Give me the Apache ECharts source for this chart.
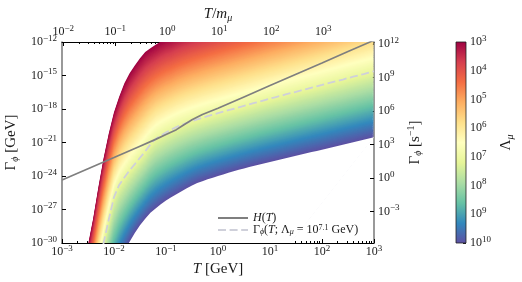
<!DOCTYPE html>
<html><head><meta charset="utf-8">
<script src="https://cdn.jsdelivr.net/npm/echarts@6/dist/echarts.min.js"></script>
<style>html,body{margin:0;padding:0;background:#fff}#c{width:522px;height:282px}</style>
</head><body><div id="c"></div>
<script>
// ---------------- data ----------------
// sample temperatures, log10(T / GeV)
const logT = [-3,-2.9,-2.8,-2.7,-2.6,-2.5,-2.4,-2.3,-2.2,-2.1,-2,-1.9,-1.8,-1.7,-1.6,-1.5,-1.4,-1.3,-1.2,-1.1,-1,-0.9,-0.8,-0.7,-0.6,-0.5,-0.4,-0.3,-0.2,-0.1,0,0.1,0.2,0.3,0.4,0.5,0.6,0.7,0.8,0.9,1,1.1,1.2,1.3,1.4,1.5,1.6,1.7,1.8,1.9,2,2.1,2.2,2.3,2.4,2.5,2.6,2.7,2.8,2.9,3];
// log10(Gamma_phi / GeV) for Lambda_mu = 10^3 GeV (upper, red edge)
const logGammaLam3 = [-46.0,-42.2,-38.7,-35.5,-32.6,-30.2,-27.8,-25.0,-22.4,-20.2,-18.3,-16.9,-15.7,-14.8,-14.1,-13.45,-12.9,-12.55,-12.25,-11.95,-11.7,
  -11.55,-11.32,-11.12,-10.94,-10.78,-10.63,-10.48,-10.34,-10.2,-10.07,
  -9.94,-9.81,-9.68,-9.55,-9.42,-9.29,-9.16,-9.03,-8.9,-8.77,
  -8.65,-8.53,-8.4,-8.28,-8.16,-8.03,-7.91,-7.79,-7.67,-7.55,
  -7.42,-7.3,-7.18,-7.06,-6.93,-6.81,-6.69,-6.57,-6.44,-6.32];
// log10(Gamma_phi / GeV) for Lambda_mu = 10^7.1 GeV (dashed curve)
const logGammaLam71 = [-53.7,-50.0,-46.5,-43.3,-40.3,-37.5,-34.8,-32.3,-30.0,-27.9,-25.9,-24.8,-24.13,-23.5,-22.94,-22.37,-21.8,-21.17,-20.68,-20.38,-20.1,
  -19.85,-19.62,-19.42,-19.24,-19.08,-18.93,-18.78,-18.64,-18.5,-18.37,
  -18.24,-18.11,-17.98,-17.85,-17.72,-17.59,-17.46,-17.33,-17.2,-17.07,
  -16.95,-16.83,-16.7,-16.58,-16.46,-16.33,-16.21,-16.09,-15.97,-15.85,
  -15.72,-15.6,-15.48,-15.36,-15.23,-15.11,-14.99,-14.87,-14.74,-14.62];
// log10(Gamma_phi / GeV) for Lambda_mu = 10^10 GeV (lower, purple edge)
const logGammaLam10 = [-56.0,-53.0,-50.0,-47.2,-44.6,-42.2,-40.0,-38.0,-36.2,-34.6,-33.2,-31.9,-30.8,-29.88,-29.1,-28.42,-27.82,-27.3,-26.9,-26.53,-26.2,
  -25.9,-25.63,-25.37,-25.1,-24.85,-24.63,-24.46,-24.3,-24.15,-24.0,
  -23.86,-23.72,-23.58,-23.45,-23.32,-23.2,-23.08,-22.96,-22.85,-22.74,
  -22.63,-22.52,-22.41,-22.3,-22.19,-22.08,-21.97,-21.86,-21.75,-21.64,
  -21.53,-21.42,-21.31,-21.2,-21.09,-20.98,-20.87,-20.76,-20.65,-20.54];
const lambdaExpAnchors = [3, 7.1, 10];
// Hubble rate H(T)
const hLogT = [-3,-2.5,-2,-1.5,-1.2,-1,-0.8,-0.7,-0.6,-0.5,-0.3,0,0.5,1,1.5,2,2.5,3];
const hLogGamma = [-24.35,-23.35,-22.35,-21.33,-20.72,-20.28,-19.85,-19.55,-19.25,-18.97,-18.5,-17.94,-16.92,-15.9,-14.89,-13.88,-12.85,-11.85];
// ticks
const xTicks = [1e-3,1e-2,1e-1,1,1e1,1e2,1e3];
const leftTicks = [1.000001e-30,1e-27,1e-24,1e-21,1e-18,1e-15,0.999999e-12];
const topTicks = [1e-2,1e-1,1,1e1,1e2,1e3];
const rightTicks = [1e-3,1,1e3,1e6,1e9,1e12];
const cbTicks = [1e3,1e4,1e5,1e6,1e7,1e8,1e9,1e10];
const M_MU = 0.10566;          // GeV
const GEV_TO_INV_S = 1.519e24; // 1 GeV in s^-1

// ---------------- helpers ----------------
const F = 'Liberation Serif';
const TXT = '#1a1a1a';
const SPECTRAL = ['#9e0142','#d53e4f','#f46d43','#fdae61','#fee08b','#ffffbf','#e6f598','#abdda4','#66c2a5','#3288bd','#5e4fa2'];
function hex2rgb(h){return [parseInt(h.slice(1,3),16),parseInt(h.slice(3,5),16),parseInt(h.slice(5,7),16)];}
function cmap(t){
  t=Math.max(0,Math.min(1,t)); const p=t*10; let i=Math.floor(p); if(i>=10)i=9; const f=p-i;
  const a=hex2rgb(SPECTRAL[i]), b=hex2rgb(SPECTRAL[i+1]);
  return 'rgb('+a.map((v,k)=>Math.round(v+(b[k]-v)*f)).join(',')+')';
}
function curveAt(e){
  const [e0,e1,e2]=lambdaExpAnchors;
  return logT.map((lt,j)=>{
    let lg;
    if(e<=e1){const f=(e-e0)/(e1-e0); lg=logGammaLam3[j]+f*(logGammaLam71[j]-logGammaLam3[j]);}
    else {const f=(e-e1)/(e2-e1); lg=logGammaLam71[j]+f*(logGammaLam10[j]-logGammaLam71[j]);}
    return [Math.pow(10,lt), Math.pow(10,lg)];
  });
}
function powLabel(v){
  const l=Math.log10(v), n=Math.round(l);
  if(Math.abs(l-n)>1e-4) return '';
  return '{b|10}{s|'+(n<0?'\u2212'+(-n):n)+'}';
}
function minorVals(lo,hi){
  const out=[];
  for(let n=Math.floor(Math.log10(lo))-1;n<=Math.ceil(Math.log10(hi));n++)
    for(let k=2;k<=9;k++){const v=k*Math.pow(10,n); if(v>lo*1.0001&&v<hi*0.9999) out.push(v);}
  return out;
}
const tickRich = {
  b:{fontFamily:F,fontSize:12,color:TXT},
  s:{fontFamily:F,fontSize:9,color:TXT,padding:[0,0,7,0]}
};
const nameRich = {
  n:{fontFamily:F,fontSize:15,color:TXT},
  it:{fontFamily:F,fontSize:15,fontStyle:'italic',color:TXT},
  sub:{fontFamily:F,fontSize:10,fontStyle:'italic',color:TXT,padding:[7,0,0,0]},
  sup:{fontFamily:F,fontSize:10,color:TXT,padding:[0,0,8,0]}
};
const legRich = {
  n:{fontFamily:F,fontSize:12,color:TXT},
  it:{fontFamily:F,fontSize:12,fontStyle:'italic',color:TXT},
  sub:{fontFamily:F,fontSize:8,fontStyle:'italic',color:TXT,padding:[4,0,0,0]},
  sup:{fontFamily:F,fontSize:8,color:TXT,padding:[0,0,4,0]}
};
const nameStyle = {fontFamily:F,fontSize:15,color:TXT,rich:nameRich};

// ---------------- series ----------------
const series = [];
const E0=3, E1=10, STEP=0.05;
const nBands = Math.round((E1-E0)/STEP);
for(let i=0;i<nBands;i++){
  const e=E0+i*STEP;
  series.push({type:'line', xAxisIndex:0, yAxisIndex:0, data:curveAt(e), symbol:'none', silent:true,
    lineStyle:{width:0,opacity:0}, areaStyle:{color:cmap((e+STEP/2-E0)/(E1-E0)),opacity:1,origin:'start'}, z:1, animation:false});
}
series.push({type:'line', xAxisIndex:0, yAxisIndex:0, data:curveAt(E1), symbol:'none', silent:true,
  lineStyle:{width:0,opacity:0}, areaStyle:{color:'#ffffff',opacity:1,origin:'start'}, z:1, animation:false});
series.push({name:'D', type:'line', xAxisIndex:0, yAxisIndex:0, symbol:'none', silent:true, animation:false, z:4,
  data:logT.map((lt,j)=>[Math.pow(10,lt),Math.pow(10,logGammaLam71[j])]),
  lineStyle:{color:'#cfd0da',width:1.8,type:[8,3.6]}});
series.push({name:'H', type:'line', xAxisIndex:0, yAxisIndex:0, symbol:'none', silent:true, animation:false, z:5,
  data:hLogT.map((lt,j)=>[Math.pow(10,lt),Math.pow(10,hLogGamma[j])]),
  lineStyle:{color:'#7f7f7f',width:1.7}});
// colorbar
const stops = SPECTRAL.map((c,i)=>({offset:i/10,color:c}));
series.push({type:'custom', xAxisIndex:4, yAxisIndex:2, silent:true, animation:false, z:1,
  data:[[0,cbTicks[0],1,cbTicks[cbTicks.length-1]]], encode:{x:[0,2],y:[1,3]},
  renderItem:function(params,api){
    const p0=api.coord([api.value(0),api.value(1)]), p1=api.coord([api.value(2),api.value(3)]);
    return {type:'rect', shape:{x:Math.min(p0[0],p1[0]),y:Math.min(p0[1],p1[1]),width:Math.abs(p1[0]-p0[0]),height:Math.abs(p1[1]-p0[1])},
      style:{fill:new echarts.graphic.LinearGradient(0,0,0,1,stops), stroke:'#222', lineWidth:0.8}};
  }});

const tMin=1e-3, tMax=1e3, gMin=1e-30, gMax=1e-12;
const option = {
  animation:false,
  backgroundColor:'#ffffff',
  grid:[
    {left:62,right:148,top:42,bottom:39,outerBoundsMode:'none'},
    {left:456,width:10,top:42,bottom:39,outerBoundsMode:'none'}
  ],
  legend:{data:['H','D'], orient:'vertical', left:212, top:207, itemWidth:30, itemHeight:8, itemGap:0,
    itemStyle:{opacity:0},
    formatter:function(name){return name==='H'?'{it|H}{n|(}{it|T}{n|)}':'{n|\u0393}{sub|\u03d5}{n|(}{it|T}{n|; \u039b}{sub|\u03bc}{n| = 10}{sup|7.1}{n| GeV)}';},
    textStyle:{fontFamily:F,fontSize:12,color:TXT,rich:legRich}},
  xAxis:[
    {type:'log', gridIndex:0, position:'bottom', min:tMin, max:tMax,
      axisLine:{onZero:false,lineStyle:{color:'#000',width:1}},
      axisTick:{inside:true,length:4,lineStyle:{color:'#000'},customValues:xTicks},
      axisLabel:{customValues:xTicks,formatter:powLabel,rich:tickRich,margin:1},
      splitLine:{show:false},
      name:'{it|T} {n|[GeV]}', nameLocation:'middle', nameGap:19, nameMoveOverlap:false, nameTextStyle:nameStyle},
    {type:'log', gridIndex:0, position:'top', min:tMin/M_MU, max:tMax/M_MU,
      axisLine:{onZero:false,lineStyle:{color:'#000',width:1}},
      axisTick:{inside:true,length:4,lineStyle:{color:'#000'},customValues:topTicks},
      axisLabel:{customValues:topTicks,formatter:powLabel,rich:tickRich,margin:2},
      splitLine:{show:false},
      name:'{it|T}{n|/}{it|m}{sub|\u03bc}', nameLocation:'middle', nameGap:19, nameMoveOverlap:false, nameTextStyle:nameStyle},
    {type:'log', gridIndex:0, position:'bottom', min:tMin, max:tMax,
      axisLine:{show:false,onZero:false}, axisLabel:{show:false}, splitLine:{show:false},
      axisTick:{inside:true,length:2,lineStyle:{color:'#000'},customValues:minorVals(tMin,tMax)}},
    {type:'log', gridIndex:0, position:'top', min:tMin/M_MU, max:tMax/M_MU,
      axisLine:{show:false,onZero:false}, axisLabel:{show:false}, splitLine:{show:false},
      axisTick:{inside:true,length:2,lineStyle:{color:'#000'},customValues:minorVals(tMin/M_MU,tMax/M_MU)}},
    {type:'value', gridIndex:1, min:0, max:1, show:false}
  ],
  yAxis:[
    {type:'log', gridIndex:0, position:'left', min:gMin, max:gMax,
      axisLine:{onZero:false,lineStyle:{color:'#808080',width:1.6}},
      axisTick:{inside:true,length:4,lineStyle:{color:'#000'},customValues:leftTicks},
      axisLabel:{customValues:leftTicks,formatter:powLabel,rich:tickRich,margin:5},
      splitLine:{show:false},
      name:'{n|\u0393}{sub|\u03d5} {n|[GeV]}', nameLocation:'middle', nameGap:42, nameRotate:90, nameMoveOverlap:false, nameTextStyle:nameStyle},
    {type:'log', gridIndex:0, position:'right', min:gMin*GEV_TO_INV_S, max:gMax*GEV_TO_INV_S,
      axisLine:{onZero:false,lineStyle:{color:'#808080',width:1.6}},
      axisTick:{inside:true,length:4,lineStyle:{color:'#000'},customValues:rightTicks},
      axisLabel:{customValues:rightTicks,formatter:powLabel,rich:tickRich,margin:4},
      splitLine:{show:false},
      name:'{n|\u0393}{sub|\u03d5} {n|[s}{sup|\u22121}{n|]}', nameLocation:'middle', nameGap:32, nameRotate:90, nameMoveOverlap:false, nameTextStyle:nameStyle},
    {type:'log', gridIndex:1, position:'right', min:cbTicks[0], max:cbTicks[cbTicks.length-1], inverse:true,
      axisLine:{show:false,onZero:false},
      axisTick:{inside:true,length:3,lineStyle:{color:'#222'},customValues:cbTicks},
      axisLabel:{customValues:cbTicks,formatter:powLabel,rich:tickRich,margin:4},
      splitLine:{show:false},
      name:'{n|\u039b}{sub|\u03bc}', nameLocation:'middle', nameGap:32, nameRotate:90, nameMoveOverlap:false, nameTextStyle:nameStyle},
    {type:'log', gridIndex:1, position:'right', min:cbTicks[0], max:cbTicks[cbTicks.length-1], inverse:true,
      axisLine:{show:false,onZero:false}, axisLabel:{show:false}, splitLine:{show:false},
      axisTick:{inside:true,length:1.6,lineStyle:{color:'#222'},customValues:minorVals(cbTicks[0],cbTicks[cbTicks.length-1])}}
  ],
  series: series
};
const chart = echarts.init(document.getElementById('c'), null, {renderer:'canvas'});
chart.setOption(option);
</script>
</body></html>
